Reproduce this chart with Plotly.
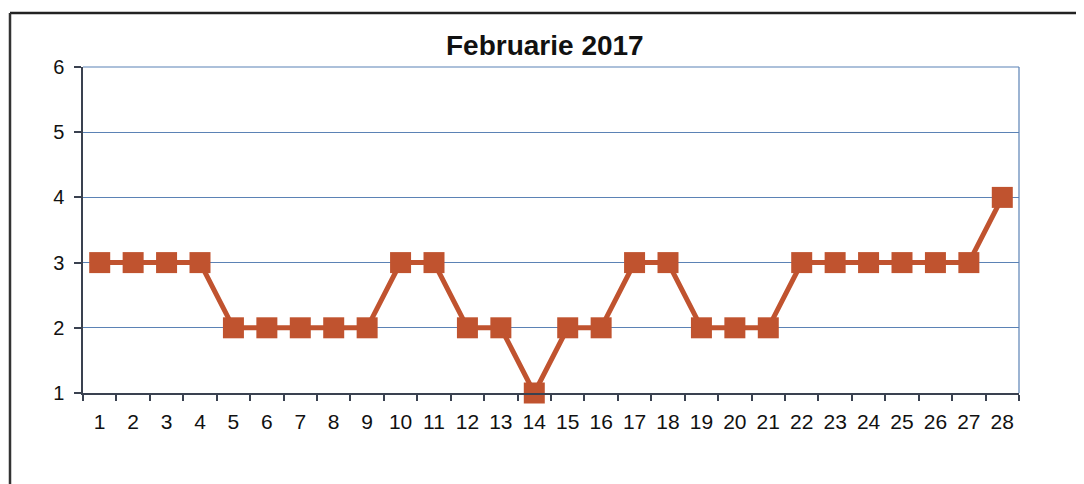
import plotly.graph_objects as go

days = list(range(1, 29))
values = [3, 3, 3, 3, 2, 2, 2, 2, 2, 3, 3, 2, 2, 1, 2, 2, 3, 3, 2, 2, 2, 3, 3, 3, 3, 3, 3, 4]
y_ticks = [1, 2, 3, 4, 5, 6]
title_text = "Februarie 2017"

line_color = "#C0532F"
grid_color = "#5B82B5"
axis_color = "#3A4150"

# page has an 8px body margin; work in page coords and shift
OFF = 8
W, H = 1084 - OFF, 484 - OFF

fig = go.Figure()
fig.add_trace(go.Scatter(
    x=days, y=values, mode="lines+markers",
    line=dict(color=line_color, width=5),
    marker=dict(symbol="square", size=21, color=line_color),
    cliponaxis=False,
    showlegend=False,
))

L = 83 - OFF
R = W - (1019 - OFF)
T = 67 - OFF
B = H - (393 - OFF)
pw, ph = W - L - R, H - T - B

def px(x):
    return (x - OFF - L) / pw

def py(y):
    return (H - B - (y - OFF)) / ph

fig.update_layout(
    width=W, height=H,
    margin=dict(l=L, r=R, t=T, b=B),
    paper_bgcolor="white", plot_bgcolor="white",
    font=dict(family="Liberation Sans, Arial, sans-serif", size=20, color="#111111"),
    title=dict(text="<b>" + title_text + "</b>", x=px(550), xanchor="center",
               y=1 - (45 - OFF) / H, yanchor="middle", font=dict(size=28)),
    xaxis=dict(
        range=[0.5, 28.5], tickvals=days, ticktext=[str(d) for d in days],
        ticks="outside", ticklen=9, tickcolor="rgba(0,0,0,0)",
        showgrid=False, zeroline=False,
        showline=True, linecolor=axis_color, linewidth=2,
        minor=dict(tick0=0.5, dtick=1, ticks="outside", ticklen=6, tickwidth=1.5,
                   tickcolor=axis_color, showgrid=False),
        tickfont=dict(size=21),
    ),
    yaxis=dict(
        range=[1, 6], tickvals=y_ticks, ticktext=[f"{v} " for v in y_ticks],
        ticks="outside", ticklen=7, tickwidth=1.5, tickcolor=axis_color,
        showgrid=True, gridcolor=grid_color, gridwidth=1.2, zeroline=False,
        showline=True, linecolor=axis_color, linewidth=2,
        tickfont=dict(size=20),
    ),
    shapes=[
        dict(type="line", xref="paper", yref="paper", x0=1, x1=1, y0=0, y1=1,
             line=dict(color=grid_color, width=1.2)),
        dict(type="line", xref="paper", yref="paper", x0=0, x1=1, y0=1, y1=1,
             line=dict(color=grid_color, width=1.2)),
        dict(type="line", xref="paper", yref="paper", x0=px(10), x1=px(1084), y0=py(13), y1=py(13),
             line=dict(color="#222222", width=2.5)),
        dict(type="line", xref="paper", yref="paper", x0=px(10), x1=px(10), y0=py(13), y1=py(484),
             line=dict(color="#333333", width=2.5)),
    ],
)

fig.write_html("out.html")
